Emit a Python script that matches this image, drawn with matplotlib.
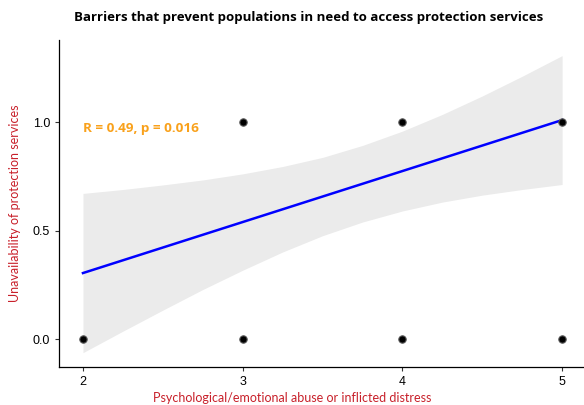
import matplotlib
matplotlib.use('Agg')
from matplotlib import pyplot as plt

# observed points (overlapping responses collapse onto these)
pt_x = [2, 3, 3, 4, 4, 5, 5]
pt_y = [0, 0, 1, 0, 1, 0, 1]

# fitted line and its confidence band
fit_x = [2, 5]
fit_y = [0.304, 1.009]
band_x = [2, 2.25, 2.5, 2.75, 3, 3.25, 3.5, 3.75, 4, 4.25, 4.5, 4.75, 5]
band_lo = [-0.063, 0.036, 0.133, 0.228, 0.317, 0.401, 0.476, 0.539, 0.590, 0.631, 0.663, 0.689, 0.712]
band_hi = [0.671, 0.689, 0.710, 0.733, 0.761, 0.795, 0.837, 0.892, 0.958, 1.035, 1.120, 1.211, 1.306]

stat_text = "R = 0.49, p = 0.016"
x_ticks = [2, 3, 4, 5]
y_ticks = [0.0, 0.5, 1.0]

red = '#C8202A'
plt.rcParams['font.family'] = ['Lato', 'DejaVu Sans']

fig = plt.figure(figsize=(5.84, 4.05), dpi=100)
ax = fig.add_axes([59 / 584, 38 / 405, 1 - 59 / 584, (367 - 40) / 405])

ax.fill_between(band_x, band_lo, band_hi, color='#EBEBEB', linewidth=0, zorder=1)
ax.plot(fit_x, fit_y, color='blue', linewidth=1.8, zorder=3)
ax.scatter(pt_x, pt_y, s=28, color='black', edgecolors='#555555', linewidths=0.8, zorder=4)
ax.text(2, 0.97, stat_text, color='#F9A11B', fontsize=9.7, fontweight='bold',
        family=['Open Sans', 'DejaVu Sans'], ha='left', va='center')

ax.set_xlim(1.85, 5.137)
ax.set_ylim(-0.129, 1.378)
ax.set_xticks(x_ticks)
ax.set_xticklabels([str(v) for v in x_ticks], family=['Liberation Sans', 'DejaVu Sans'])
ax.set_yticks(y_ticks)
ax.set_yticklabels(['%.1f' % v for v in y_ticks], family=['Liberation Sans', 'DejaVu Sans'])
ax.tick_params(labelsize=9, length=3, color='#333333', labelcolor='black')
for side in ['top', 'right']:
    ax.spines[side].set_visible(False)
for side in ['left', 'bottom']:
    ax.spines[side].set_linewidth(0.9)

fig.text(15 / 584, 1 - 203 / 405, "Unavailability of protection services", color=red,
         fontsize=9, rotation=90, ha='center', va='center')
fig.text(0.5, 1 - 398 / 405, "Psychological/emotional abuse or inflicted distress", color=red,
         fontsize=9, ha='center', va='center')
fig.text(308.5 / 584, 1 - 17 / 405, "Barriers that prevent populations in need to access protection services",
         fontsize=9.5, fontweight='bold', family=['Open Sans', 'DejaVu Sans'], ha='center', va='center')

fig.savefig('out.png', dpi=100)
